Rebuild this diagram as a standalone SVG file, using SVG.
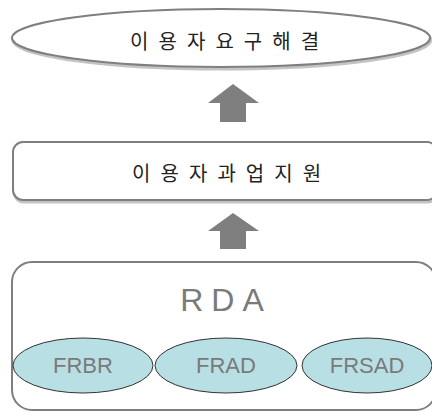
<svg xmlns="http://www.w3.org/2000/svg" width="432" height="412" viewBox="0 0 432 412">
<style>
.shadow{fill:none;stroke:#c4c4c4;stroke-width:3}
.box{fill:#fff;stroke:#7f7f7f;stroke-width:2}
.ko{font-family:"Noto Sans CJK KR","Noto Sans",sans-serif;font-size:20px;fill:#222;letter-spacing:2.8px;text-anchor:middle}
.arrow{fill:#7f7f7f}
.sub{fill:#b8dfe3;stroke:#333;stroke-width:1}
.subt{font-family:"Liberation Sans",Arial,sans-serif;font-size:22px;fill:#7a7a7a;text-anchor:middle}
</style>
<g id="goal">
<ellipse class="shadow" cx="222" cy="40" rx="209" ry="29"/>
<ellipse class="box" cx="221" cy="38" rx="209" ry="29"/>
<text class="ko" x="226" y="49">이 용 자 요 구 해 결</text>
</g>
<g id="support">
<rect class="shadow" x="14" y="144" width="424" height="58" rx="10"/>
<rect class="box" x="13" y="142" width="424" height="58" rx="10"/>
<text class="ko" x="228" y="181">이 용 자 과 업 지 원</text>
</g>
<g id="rda">
<rect x="12" y="262" width="424" height="148" rx="20" fill="#fff" stroke="#7f7f7f" stroke-width="2"/>
<text x="226" y="311" font-family="'Liberation Sans',Arial,sans-serif" font-size="32" fill="#7a7a7a" text-anchor="middle" letter-spacing="8">RDA</text>
</g>
<g id="frbr">
<ellipse class="sub" cx="83" cy="365.5" rx="70" ry="27.5"/>
<text class="subt" x="83" y="373">FRBR</text>
</g>
<g id="frad">
<ellipse class="sub" cx="226" cy="365.5" rx="71" ry="27.5"/>
<text class="subt" x="226" y="373">FRAD</text>
</g>
<g id="frsad">
<ellipse class="sub" cx="367" cy="365.5" rx="65" ry="27.5"/>
<text class="subt" x="367" y="373">FRSAD</text>
</g>
<g id="connectors">
<polygon class="arrow" points="233,84 259,103 246,103 246,122 220,122 220,103 208,103"/>
<polygon class="arrow" points="233,213 259,231 246,231 246,249 220,249 220,231 208,231"/>
</g>
</svg>
